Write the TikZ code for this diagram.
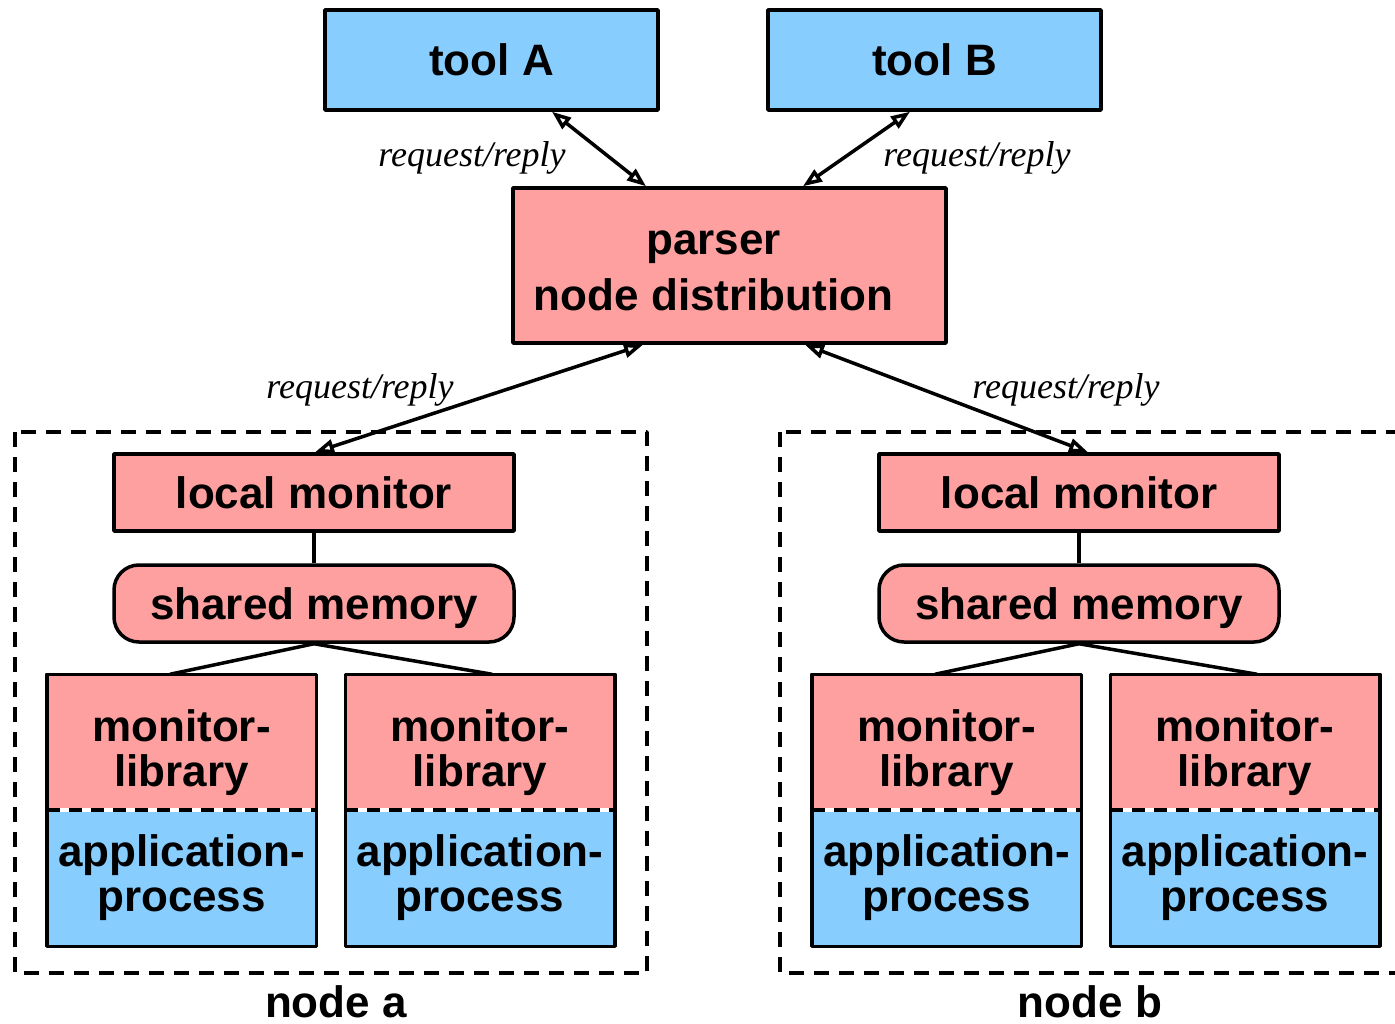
\documentclass[tikz,border=0pt]{standalone}
\usepackage{fontspec}
\setmainfont{Liberation Serif}
\setsansfont{Liberation Sans}
\usetikzlibrary{arrows.meta,positioning}
\definecolor{boxpink}{RGB}{255,160,160}
\definecolor{boxblue}{RGB}{135,206,255}
\begin{document}
\begin{tikzpicture}[x=1pt,y=-1pt,line join=round,line width=3.5pt,
		>={Triangle[open,length=19pt,width=14pt]}]
			\tikzset{box/.style={draw,inner sep=0pt,align=center,
				font=\sffamily\bfseries\fontsize{44}{45}\selectfont},
				tool/.style={box,fill=boxblue,minimum width=333pt,minimum height=100pt},
				monitor/.style={box,fill=boxpink,minimum width=400pt,minimum height=77pt},
				shmem/.style={monitor,rounded corners=25pt,text depth=0pt},
				libpart/.style={box,draw=none,fill=boxpink,minimum width=266pt,minimum height=132pt,
					text height=89pt,text depth=0pt},
				apppart/.style={box,draw=none,fill=boxblue,minimum width=266pt,minimum height=133pt},
				parsertext/.style={align=center,inner sep=0pt,xshift=-16pt,yshift=-5pt,
					font=\sffamily\bfseries\fontsize{44}{56}\selectfont},
				msg/.style={font=\itshape\fontsize{36}{40}\selectfont},
				frame/.style={dash pattern=on 15pt off 10pt},
				hostname/.style={inner sep=0pt,font=\sffamily\bfseries\fontsize{44}{45}\selectfont}}
			\useasboundingbox (0,0) rectangle (1395,1024);
			\clip (0,0) rectangle (1395,1024);
			% tools and parser
			\node[tool] (toolA) at (491.5,60) {tool A};
			\node[tool] (toolB) at (934.5,60) {tool B};
			\node[box,fill=boxpink,minimum width=433pt,minimum height=155pt,
				label={[parsertext]center:parser\\node distribution}] (parser) at (729.5,265.5) {};
			\draw[<->] ([xshift=60.5pt]toolA.south) -- ([xshift=-83.5pt]parser.north);
			\draw[<->] ([xshift=-24.5pt]toolB.south) -- ([xshift=73.5pt]parser.north);
			\node[msg] (msgA) at (472,158) {request/reply};
			\node[msg] (msgB) at (977,158) {request/reply};
			% one group per host
			\foreach \g/\x/\ps/\ms/\lx/\mx in {a/0/-86.5/1/336/360,b/765/75.5/9/1090/1066}
			{
				\draw[frame] (15+\x,432) rectangle (647+\x,973);
				\node[hostname] (host\g) at (\lx,1002) {node \g};
				\node[monitor] (lm\g) at (314+\x,492.5) {local monitor};
				\node[shmem] (sm\g) at (314+\x,603.5) {shared memory};
				\draw (lm\g) -- (sm\g);
				\node[libpart] (lib\g1) at (181.5+\x,742) {monitor-\\library};
				\node[apppart,below=0pt of lib\g1] (app\g1) {application-\\process};
				\node[libpart] (lib\g2) at (480+\x,742) {monitor-\\library};
				\node[apppart,below=0pt of lib\g2] (app\g2) {application-\\process};
				\foreach \i in {1,2}
				{
					\draw (lib\g\i.north west) rectangle (app\g\i.south east);
					\draw[frame,dash pattern=on 13pt off 9pt] (lib\g\i.south west) -- (lib\g\i.south east);
				}
				\draw (sm\g.south) -- ([xshift=-11.5pt]lib\g1.north);
				\draw (sm\g.south) -- ([xshift=12pt]lib\g2.north);
				\draw[<->] ([xshift=\ps pt]parser.south) -- ([xshift=\ms pt]lm\g.north);
				\node[msg] (msg\g) at (\mx,390) {request/reply};
			}
		\end{tikzpicture}
\end{document}
